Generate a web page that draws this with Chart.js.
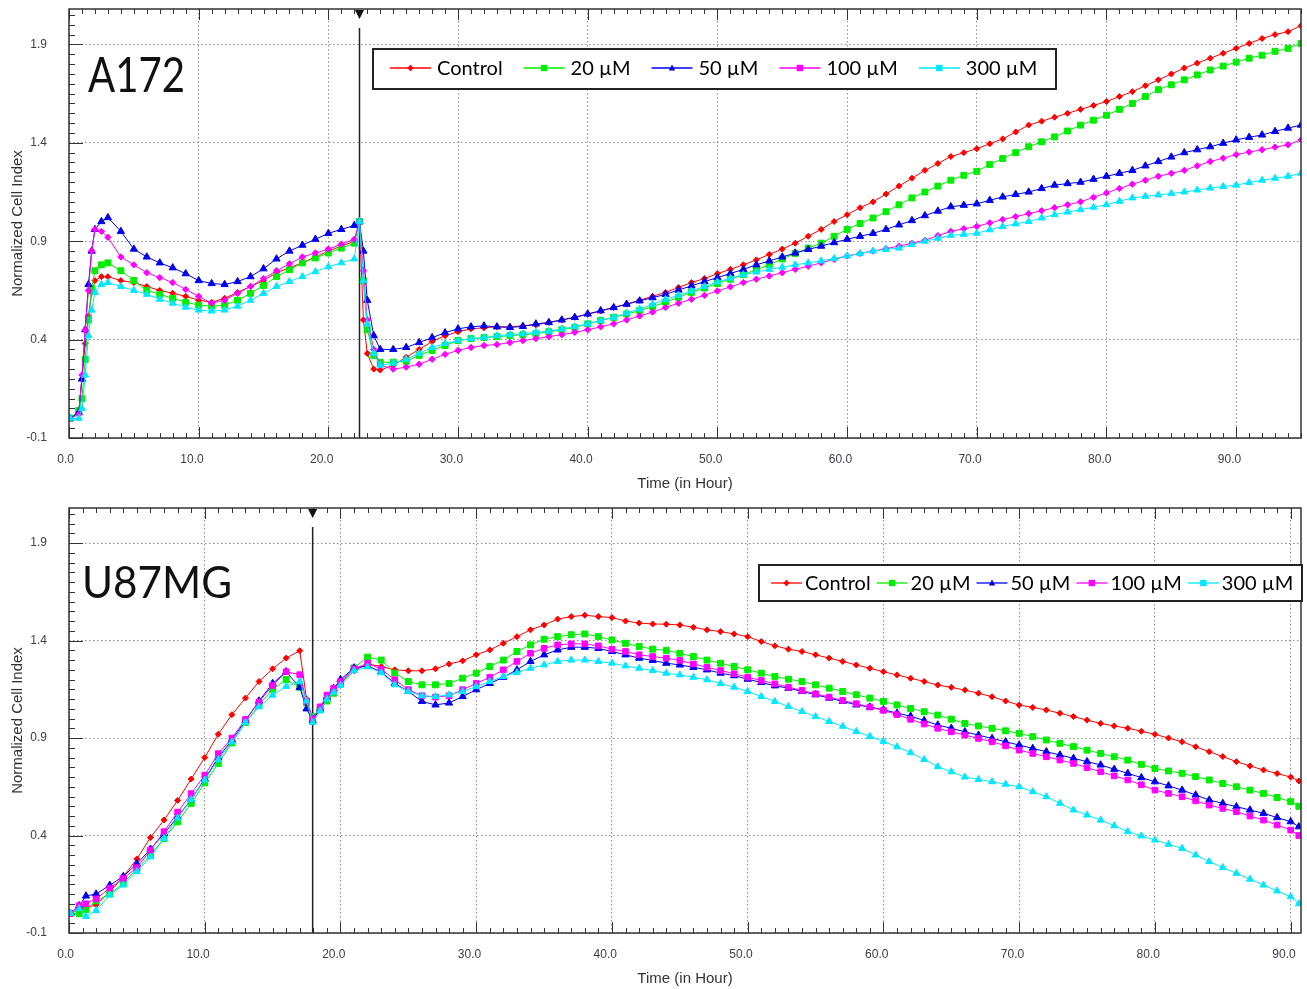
<!DOCTYPE html>
<html>
<head>
<meta charset="utf-8">
<script src="https://cdn.jsdelivr.net/npm/chart.js@4.4.0/dist/chart.umd.min.js"></script>
<style>
    html, body { margin: 0; padding: 0; background: #fff; overflow: hidden; }
    canvas { position: absolute; left: 0; }
    #chartTop { top: 0; }
    #chartBottom { top: 495px; }
</style>
</head>
<body>
<canvas id="chartTop" width="1307" height="495" style="width:1307px;height:495px"></canvas>
<canvas id="chartBottom" width="1307" height="494" style="width:1307px;height:494px"></canvas>
<script>
// Series and axis values
const seriesNames = ['Control', '20 µM', '50 µM', '100 µM', '300 µM'];
const xTickValues = [0, 10, 20, 30, 40, 50, 60, 70, 80, 90];
const yTickValues = [-0.1, 0.4, 0.9, 1.4, 1.9];
const a172TreatmentTime = 22.4;
const u87TreatmentTime = 17.95;

// A172 (top panel), time in hours
const a172Time = [0.1, 0.75, 1, 1.25, 1.5, 1.75, 2, 2.5, 3,
    4, 5, 6, 7, 8, 9, 10, 11, 12, 13, 14, 15, 16, 17, 18, 19, 20, 21, 22,
    22.4, 22.7, 23, 23.5,
    24, 25, 26, 27, 28, 29, 30, 31, 32, 33,
    34, 35, 36, 37, 38, 39, 40, 41, 42, 43,
    44, 45, 46, 47, 48, 49, 50, 51, 52, 53,
    54, 55, 56, 57, 58, 59, 60, 61, 62, 63,
    64, 65, 66, 67, 68, 69, 70, 71, 72, 73,
    74, 75, 76, 77, 78, 79, 80, 81, 82, 83,
    84, 85, 86, 87, 88, 89, 90, 91, 92, 93,
    94, 95];
const a172Control = [0.0, 0.03, 0.2, 0.38, 0.52, 0.64, 0.70, 0.72, 0.72,
    0.70, 0.69, 0.67, 0.65, 0.635, 0.62, 0.60, 0.59, 0.61, 0.64, 0.67, 0.70, 0.74, 0.765, 0.79, 0.82, 0.85, 0.875, 0.90,
    1.0, 0.50, 0.33, 0.25,
    0.245, 0.27, 0.31, 0.35, 0.39, 0.42, 0.44, 0.455, 0.46, 0.465,
    0.465, 0.47, 0.475, 0.487, 0.50, 0.513, 0.53, 0.545, 0.563, 0.58,
    0.60, 0.62, 0.64, 0.665, 0.69, 0.71, 0.735, 0.757, 0.78, 0.805,
    0.833, 0.86, 0.89, 0.925, 0.96, 1.0, 1.035, 1.07, 1.10, 1.14,
    1.18, 1.22, 1.26, 1.295, 1.33, 1.35, 1.37, 1.395, 1.42, 1.455,
    1.49, 1.51, 1.53, 1.55, 1.57, 1.59, 1.61, 1.635, 1.66, 1.69,
    1.72, 1.75, 1.78, 1.805, 1.83, 1.855, 1.88, 1.905, 1.93, 1.95,
    1.965, 1.995];
const a172Dose20 = [0.0, 0.04, 0.1, 0.3, 0.5, 0.66, 0.75, 0.78, 0.79,
    0.75, 0.70, 0.65, 0.63, 0.61, 0.59, 0.575, 0.57, 0.575, 0.60, 0.635, 0.675, 0.72, 0.755, 0.79, 0.815, 0.84, 0.865, 0.89,
    1.0, 0.7, 0.45, 0.32,
    0.285, 0.285, 0.29, 0.32, 0.345, 0.37, 0.395, 0.405, 0.41, 0.415,
    0.42, 0.425, 0.43, 0.44, 0.45, 0.462, 0.48, 0.497, 0.513, 0.53,
    0.547, 0.568, 0.59, 0.615, 0.64, 0.662, 0.685, 0.707, 0.73, 0.755,
    0.78, 0.81, 0.838, 0.865, 0.89, 0.925, 0.96, 0.99, 1.018, 1.05,
    1.085, 1.12, 1.15, 1.18, 1.21, 1.235, 1.255, 1.29, 1.32, 1.35,
    1.38, 1.405, 1.43, 1.46, 1.49, 1.515, 1.54, 1.57, 1.60, 1.635,
    1.67, 1.695, 1.72, 1.745, 1.77, 1.79, 1.81, 1.83, 1.845, 1.865,
    1.88, 1.905];
const a172Dose50 = [0.0, 0.03, 0.2, 0.45, 0.68, 0.85, 0.96, 1.0, 1.02,
    0.95, 0.86, 0.82, 0.79, 0.765, 0.735, 0.70, 0.685, 0.68, 0.695, 0.72, 0.76, 0.81, 0.85, 0.88, 0.91, 0.94, 0.96, 0.98,
    1.0, 0.85, 0.6, 0.42,
    0.35, 0.35, 0.36, 0.385, 0.41, 0.435, 0.455, 0.465, 0.47, 0.465,
    0.462, 0.467, 0.48, 0.487, 0.50, 0.513, 0.53, 0.547, 0.563, 0.58,
    0.597, 0.613, 0.63, 0.652, 0.673, 0.695, 0.715, 0.736, 0.757, 0.78,
    0.80, 0.82, 0.84, 0.858, 0.875, 0.893, 0.91, 0.925, 0.94, 0.96,
    0.983, 1.005, 1.03, 1.053, 1.075, 1.083, 1.09, 1.108, 1.125, 1.138,
    1.15, 1.168, 1.185, 1.193, 1.20, 1.215, 1.23, 1.245, 1.26, 1.283,
    1.305, 1.328, 1.35, 1.365, 1.38, 1.398, 1.415, 1.428, 1.44, 1.458,
    1.475, 1.49];
const a172Dose100 = [0.0, 0.02, 0.22, 0.45, 0.65, 0.85, 0.96, 0.95, 0.92,
    0.82, 0.78, 0.74, 0.715, 0.69, 0.655, 0.62, 0.585, 0.60, 0.635, 0.67, 0.71, 0.75, 0.785, 0.82, 0.84, 0.86, 0.885, 0.91,
    1.0, 0.75, 0.5, 0.35,
    0.27, 0.25, 0.26, 0.275, 0.30, 0.325, 0.345, 0.36, 0.37, 0.375,
    0.385, 0.395, 0.405, 0.415, 0.425, 0.437, 0.45, 0.465, 0.48, 0.50,
    0.52, 0.54, 0.563, 0.585, 0.605, 0.625, 0.647, 0.668, 0.69, 0.707,
    0.723, 0.74, 0.757, 0.773, 0.79, 0.808, 0.825, 0.838, 0.85, 0.862,
    0.875, 0.89, 0.905, 0.928, 0.95, 0.963, 0.975, 0.993, 1.01, 1.025,
    1.04, 1.055, 1.07, 1.085, 1.10, 1.123, 1.145, 1.168, 1.19, 1.21,
    1.23, 1.245, 1.26, 1.283, 1.305, 1.322, 1.34, 1.353, 1.365, 1.378,
    1.39, 1.415];
const a172Dose300 = [0.0, 0.0, 0.05, 0.22, 0.42, 0.55, 0.64, 0.68, 0.69,
    0.67, 0.65, 0.63, 0.605, 0.585, 0.565, 0.55, 0.545, 0.55, 0.57, 0.60, 0.635, 0.67, 0.695, 0.72, 0.745, 0.77, 0.79, 0.81,
    1.0, 0.7, 0.48, 0.33,
    0.27, 0.28, 0.30, 0.33, 0.36, 0.38, 0.395, 0.405, 0.41, 0.42,
    0.425, 0.43, 0.437, 0.442, 0.454, 0.466, 0.48, 0.497, 0.513, 0.535,
    0.555, 0.58, 0.605, 0.625, 0.647, 0.67, 0.693, 0.712, 0.73, 0.743,
    0.757, 0.768, 0.78, 0.79, 0.80, 0.812, 0.825, 0.838, 0.85, 0.858,
    0.865, 0.883, 0.90, 0.915, 0.93, 0.935, 0.94, 0.958, 0.975, 0.988,
    1.0, 1.018, 1.035, 1.048, 1.06, 1.073, 1.085, 1.103, 1.12, 1.128,
    1.135, 1.143, 1.15, 1.16, 1.17, 1.178, 1.185, 1.198, 1.21, 1.22,
    1.23, 1.245];

// U87MG (bottom panel), time in hours
const u87Time = [0.1, 0.75, 1.25,
    2, 3, 4, 5, 6, 7, 8, 9, 10, 11, 12, 13, 14, 15, 16, 17,
    17.5, 17.95, 18.5, 19, 19.5,
    20, 21, 22, 23, 24, 25, 26, 27, 28, 29,
    30, 31, 32, 33, 34, 35, 36, 37, 38, 39,
    40, 41, 42, 43, 44, 45, 46, 47, 48, 49,
    50, 51, 52, 53, 54, 55, 56, 57, 58, 59,
    60, 61, 62, 63, 64, 65, 66, 67, 68, 69,
    70, 71, 72, 73, 74, 75, 76, 77, 78, 79,
    80, 81, 82, 83, 84, 85, 86, 87, 88, 89,
    90, 90.6];
const u87Control = [0.0, 0.02, 0.03,
    0.045, 0.11, 0.19, 0.28, 0.39, 0.48, 0.58, 0.69, 0.80, 0.92, 1.02, 1.105, 1.19, 1.255, 1.31, 1.348,
    1.10, 0.99, 1.06, 1.095, 1.14,
    1.18, 1.245, 1.28, 1.267, 1.25, 1.245, 1.245, 1.255, 1.28, 1.296,
    1.327, 1.352, 1.386, 1.42, 1.455, 1.48, 1.51, 1.523, 1.53, 1.523,
    1.518, 1.50, 1.49, 1.485, 1.484, 1.48, 1.468, 1.455, 1.446, 1.434,
    1.42, 1.395, 1.373, 1.356, 1.344, 1.327, 1.31, 1.293, 1.275, 1.258,
    1.24, 1.224, 1.207, 1.19, 1.172, 1.16, 1.146, 1.13, 1.112, 1.09,
    1.069, 1.057, 1.044, 1.027, 1.01, 0.992, 0.975, 0.962, 0.95, 0.935,
    0.919, 0.90, 0.881, 0.855, 0.83, 0.805, 0.779, 0.757, 0.736, 0.718,
    0.70, 0.68];
const u87Dose20 = [0.0, 0.0, 0.02,
    0.065, 0.10, 0.155, 0.23, 0.30, 0.385, 0.47, 0.565, 0.67, 0.77, 0.875, 0.98, 1.07, 1.15, 1.20, 1.16,
    1.08, 1.01, 1.045, 1.09, 1.13,
    1.18, 1.26, 1.315, 1.30, 1.233, 1.19, 1.173, 1.173, 1.18, 1.207,
    1.233, 1.267, 1.30, 1.344, 1.378, 1.407, 1.42, 1.43, 1.434, 1.42,
    1.403, 1.386, 1.37, 1.356, 1.35, 1.335, 1.318, 1.30, 1.284, 1.267,
    1.25, 1.233, 1.216, 1.202, 1.19, 1.173, 1.156, 1.139, 1.122, 1.105,
    1.088, 1.07, 1.052, 1.035, 1.018, 0.997, 0.975, 0.962, 0.95, 0.937,
    0.924, 0.907, 0.89, 0.873, 0.856, 0.838, 0.821, 0.804, 0.787, 0.765,
    0.744, 0.731, 0.719, 0.702, 0.685, 0.667, 0.65, 0.633, 0.616, 0.595,
    0.574, 0.55];
const u87Dose50 = [0.0, 0.04, 0.09,
    0.10, 0.145, 0.19, 0.255, 0.33, 0.41, 0.495, 0.585, 0.69, 0.80, 0.89, 0.99, 1.09, 1.18, 1.24, 1.16,
    1.05, 0.99, 1.05, 1.11, 1.155,
    1.20, 1.26, 1.27, 1.24, 1.18, 1.139, 1.088, 1.07, 1.08, 1.113,
    1.148, 1.18, 1.212, 1.25, 1.293, 1.327, 1.352, 1.366, 1.366, 1.36,
    1.344, 1.327, 1.31, 1.298, 1.284, 1.275, 1.263, 1.25, 1.233, 1.22,
    1.202, 1.185, 1.168, 1.156, 1.139, 1.122, 1.105, 1.088, 1.07, 1.059,
    1.045, 1.028, 1.012, 0.99, 0.967, 0.95, 0.932, 0.915, 0.898, 0.881,
    0.864, 0.847, 0.83, 0.813, 0.796, 0.779, 0.762, 0.74, 0.719, 0.697,
    0.676, 0.655, 0.633, 0.608, 0.582, 0.565, 0.548, 0.531, 0.514, 0.492,
    0.471, 0.445];
const u87Dose100 = [0.0, 0.04, 0.05,
    0.075, 0.13, 0.18, 0.235, 0.325, 0.42, 0.52, 0.615, 0.71, 0.82, 0.90, 0.995, 1.085, 1.17, 1.24, 1.225,
    1.09, 1.0, 1.06, 1.12, 1.155,
    1.19, 1.255, 1.284, 1.253, 1.199, 1.148, 1.117, 1.11, 1.117, 1.148,
    1.18, 1.212, 1.25, 1.293, 1.335, 1.36, 1.378, 1.383, 1.383, 1.373,
    1.356, 1.344, 1.327, 1.318, 1.31, 1.298, 1.28, 1.263, 1.246, 1.23,
    1.212, 1.195, 1.178, 1.161, 1.144, 1.127, 1.11, 1.093, 1.076, 1.059,
    1.042, 1.02, 0.996, 0.972, 0.95, 0.932, 0.915, 0.898, 0.881, 0.86,
    0.838, 0.821, 0.804, 0.787, 0.77, 0.748, 0.727, 0.706, 0.685, 0.66,
    0.633, 0.616, 0.599, 0.578, 0.556, 0.539, 0.522, 0.50, 0.479, 0.454,
    0.428, 0.40];
const u87Dose300 = [0.0, 0.025, -0.015,
    0.015, 0.095, 0.146, 0.215, 0.29, 0.385, 0.49, 0.585, 0.685, 0.79, 0.88, 0.98, 1.06, 1.12, 1.165, 1.19,
    1.09, 0.98, 1.04, 1.10, 1.135,
    1.17, 1.245, 1.265, 1.235, 1.173, 1.139, 1.117, 1.113, 1.122, 1.139,
    1.164, 1.19, 1.216, 1.236, 1.258, 1.275, 1.293, 1.30, 1.30, 1.293,
    1.284, 1.27, 1.258, 1.246, 1.233, 1.224, 1.212, 1.199, 1.18, 1.161,
    1.139, 1.113, 1.088, 1.062, 1.036, 1.01, 0.985, 0.96, 0.934, 0.908,
    0.883, 0.855, 0.825, 0.79, 0.753, 0.727, 0.70, 0.688, 0.676, 0.663,
    0.65, 0.625, 0.599, 0.565, 0.531, 0.505, 0.479, 0.45, 0.42, 0.398,
    0.377, 0.355, 0.334, 0.30, 0.266, 0.236, 0.206, 0.176, 0.146, 0.116,
    0.086, 0.05];

const seriesColors = ['#ff0000', '#00ee00', '#0000ee', '#ff00ff', '#00e8ff'];
const legendMarkers = ['rectRot', 'rect', 'triangle', 'rect', 'rect'];

function drawMarker(ctx, style, x, y, r, color) {
    ctx.fillStyle = color;
    ctx.beginPath();
    if (style === 'rect') {
        ctx.rect(x - r, y - r, 2 * r, 2 * r);
    } else if (style === 'triangle') {
        ctx.moveTo(x, y - r * 1.1);
        ctx.lineTo(x + r, y + r * 0.8);
        ctx.lineTo(x - r, y + r * 0.8);
        ctx.closePath();
    } else {
        ctx.moveTo(x, y - r);
        ctx.lineTo(x + r, y);
        ctx.lineTo(x, y + r);
        ctx.lineTo(x - r, y);
        ctx.closePath();
    }
    ctx.fill();
}

// frame, inside tick marks, treatment marker, panel name and boxed legend
const decorPlugin = {
    id: 'decor',
    beforeDatasetsDraw(chart, args, opts) {
        const { ctx, chartArea: a, scales: { x, y } } = chart;
        ctx.save();
        ctx.strokeStyle = '#333';
        ctx.lineWidth = 1;
        ctx.beginPath();
        for (let h = 0; x.getPixelForValue(h) <= a.right + 0.5; h++) {
            const px = Math.round(x.getPixelForValue(h)) + 0.5;
            const len = h % 10 === 0 ? 11 : 5;
            ctx.moveTo(px, a.bottom);
            ctx.lineTo(px, a.bottom - len);
            ctx.moveTo(px, a.top);
            ctx.lineTo(px, a.top + len);
        }
        for (let k = 0; ; k++) {
            const py = Math.round(y.getPixelForValue(-0.1 + k * 0.05)) + 0.5;
            if (py < a.top) break;
            const len = k % 10 === 0 ? 14 : 6;
            ctx.moveTo(a.left, py);
            ctx.lineTo(a.left + len, py);
        }
        ctx.stroke();

        const ex = x.getPixelForValue(opts.treatment);
        ctx.strokeStyle = '#222';
        ctx.lineWidth = 1.5;
        ctx.beginPath();
        ctx.moveTo(ex, a.top + 19);
        ctx.lineTo(ex, a.bottom);
        ctx.stroke();
        ctx.fillStyle = '#111';
        ctx.beginPath();
        ctx.moveTo(ex - 4.5, a.top + 1);
        ctx.lineTo(ex + 4.5, a.top + 1);
        ctx.lineTo(ex, a.top + 10);
        ctx.closePath();
        ctx.fill();
        ctx.restore();
    },
    afterDraw(chart, args, opts) {
        const { ctx, chartArea: a } = chart;
        ctx.save();
        ctx.strokeStyle = '#333';
        ctx.lineWidth = 1.5;
        ctx.strokeRect(a.left, a.top, a.right - a.left, a.bottom - a.top);

        // panel name
        ctx.font = opts.cellFont;
        ctx.fillStyle = '#111';
        ctx.textBaseline = 'alphabetic';
        ctx.textAlign = 'left';
        const w = ctx.measureText(opts.cell).width;
        ctx.save();
        ctx.translate(opts.cellX, opts.cellBaseline);
        ctx.scale(opts.cellWidth / w, 1);
        ctx.fillText(opts.cell, 0, 0);
        ctx.restore();

        // legend
        const L = opts.legend;
        ctx.fillStyle = '#fff';
        ctx.fillRect(L.x, L.y, L.w, L.h);
        ctx.strokeStyle = '#222';
        ctx.lineWidth = 2;
        ctx.strokeRect(L.x, L.y, L.w, L.h);
        ctx.font = '20px Lato';
        let cx = L.x + L.padLeft;
        chart.data.datasets.forEach((ds, i) => {
            ctx.strokeStyle = ds.borderColor;
            ctx.lineWidth = 1.3;
            ctx.beginPath();
            ctx.moveTo(cx, L.lineY);
            ctx.lineTo(cx + L.lineLen, L.lineY);
            ctx.stroke();
            drawMarker(ctx, legendMarkers[i], cx + L.lineLen / 2, L.lineY, 3.2, ds.borderColor);
            ctx.fillStyle = '#000';
            ctx.fillText(ds.label, cx + L.lineLen + L.textGap, L.baseline);
            cx += L.lineLen + L.textGap + ctx.measureText(ds.label).width + L.itemGap;
        });
        ctx.restore();
    }
};

function makeChart(canvasId, cfg) {
    const datasets = seriesNames.map((name, i) => ({
        label: name,
        data: cfg.time.map((t, j) => ({ x: t, y: cfg.values[i][j] })),
        borderColor: seriesColors[i],
        backgroundColor: seriesColors[i],
        borderWidth: 1,
        pointStyle: cfg.markers[i],
        pointRadius: cfg.radii[i],
        pointBorderWidth: 1,
        tension: 0,
        order: 4 - i
    }));
    const tickFont = { family: 'Liberation Sans, Arial, sans-serif', size: 12 };
    const titleFont = { family: 'Liberation Sans, Arial, sans-serif', size: 15 };
    return new Chart(document.getElementById(canvasId), {
        type: 'line',
        data: { datasets },
        plugins: [decorPlugin],
        options: {
            responsive: false,
            animation: false,
            events: [],
            layout: { padding: { top: cfg.padTop, right: 6, left: 0, bottom: 0 } },
            plugins: {
                legend: { display: false },
                tooltip: { enabled: false },
                decor: cfg.decor
            },
            scales: {
                x: {
                    type: 'linear',
                    min: 0,
                    max: cfg.xMax,
                    afterBuildTicks: s => { s.ticks = xTickValues.map(v => ({ value: v })); },
                    afterFit: s => { s.height = cfg.xAxisHeight; s.paddingLeft = 0; s.paddingRight = 0; },
                    grid: { color: '#8c8c8c', lineWidth: 1, drawTicks: false },
                    border: { display: false, dash: [1.5, 2.5] },
                    ticks: {
                        padding: 14, align: 'end', labelOffset: 5, color: '#3c3c4c', font: tickFont,
                        maxRotation: 0, autoSkip: false, callback: v => v.toFixed(1)
                    },
                    title: {
                        display: true, text: 'Time (in Hour)', color: '#333', font: titleFont,
                        padding: { top: 0, bottom: cfg.titlePad }
                    }
                },
                y: {
                    min: -0.1,
                    max: 2.08,
                    afterBuildTicks: s => { s.ticks = yTickValues.map(v => ({ value: v })); },
                    afterFit: s => { s.width = 69; s.paddingTop = 0; s.paddingBottom = 0; },
                    grid: { color: '#8c8c8c', lineWidth: 1, drawTicks: false },
                    border: { display: false, dash: [1.5, 2.5] },
                    ticks: { padding: 22, color: '#3c3c4c', font: tickFont, callback: v => v.toFixed(1) },
                    title: {
                        display: true, text: 'Normalized Cell Index', color: '#333', font: titleFont,
                        padding: { top: 9, bottom: 0 }
                    }
                }
            }
        }
    });
}

makeChart('chartTop', {
    time: a172Time,
    values: [a172Control, a172Dose20, a172Dose50, a172Dose100, a172Dose300],
    markers: ['rectRot', 'rect', 'triangle', 'rectRot', 'triangle'],
    radii: [3, 4.2, 4.2, 3.2, 4],
    xMax: 95,
    padTop: 9,
    xAxisHeight: 57,
    titlePad: 2,
    decor: {
        treatment: a172TreatmentTime,
        cell: 'A172', cellFont: '49px Lato', cellX: 88, cellBaseline: 92, cellWidth: 97,
        legend: { x: 373, y: 49, w: 683, h: 40, padLeft: 17, lineLen: 41, textGap: 6, itemGap: 21, lineY: 68, baseline: 75 }
    }
});

makeChart('chartBottom', {
    time: u87Time,
    values: [u87Control, u87Dose20, u87Dose50, u87Dose100, u87Dose300],
    markers: ['rectRot', 'rect', 'triangle', 'rect', 'triangle'],
    radii: [3, 4.2, 4.2, 4, 4],
    xMax: 90.76,
    padTop: 13,
    xAxisHeight: 56,
    titlePad: 1,
    decor: {
        treatment: u87TreatmentTime,
        cell: 'U87MG', cellFont: '44px Lato', cellX: 82, cellBaseline: 103, cellWidth: 150,
        legend: { x: 759, y: 70, w: 543, h: 36, padLeft: 12, lineLen: 31, textGap: 3, itemGap: 6, lineY: 88, baseline: 95 }
    }
});
</script>
</body>
</html>
